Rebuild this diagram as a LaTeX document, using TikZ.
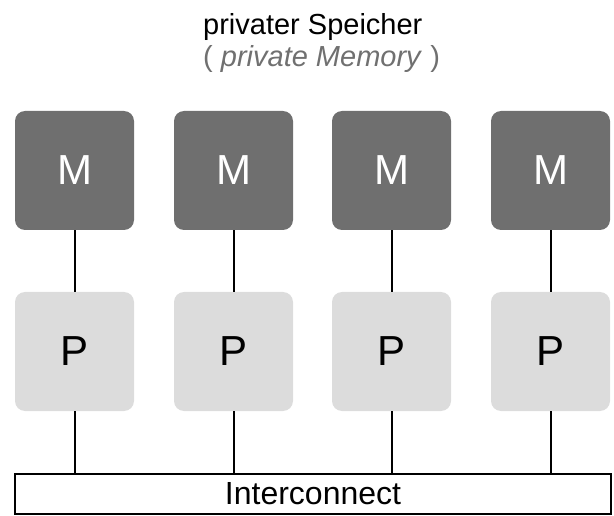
\documentclass[tikz,border=0pt]{standalone}
\usepackage{fontspec}
\setmainfont{Liberation Sans}
\definecolor{mgray}{HTML}{6F6F6F}
\definecolor{pgray}{HTML}{DCDCDC}
\definecolor{subgray}{HTML}{707070}
\begin{document}
\begin{tikzpicture}[x=1pt,y=-1pt,
  mbox/.style={fill=mgray,rounded corners=10pt,minimum width=119pt,minimum height=119pt,inner sep=0pt,text=white,font=\fontsize{42}{48}\selectfont},
  pbox/.style={fill=pgray,rounded corners=10pt,minimum width=119pt,minimum height=119pt,inner sep=0pt,text=black,font=\fontsize{42}{48}\selectfont},
  link/.style={line width=2pt,black}]
\useasboundingbox (0,0) rectangle (614,516);
\node[anchor=base west,inner sep=0pt,font=\fontsize{29}{34}\selectfont] (t1) at (203,35) {privater Speicher};
\node[anchor=base west,inner sep=0pt,text=subgray,font=\fontsize{29}{34}\selectfont] (t2) at (203,67) {( \textit{private Memory} )};
\foreach \i/\x in {1/74.5,2/233.5,3/391.5,4/550.5}{
  \node[mbox] (m\i) at (\x,170.5) {M};
  \node[pbox] (p\i) at (\x,351.5) {P};
}
\node[draw,line width=2pt,minimum width=596pt,minimum height=40pt,inner sep=0pt,font=\fontsize{32}{38}\selectfont] (ic) at (313,494) {Interconnect};
\foreach \i in {1,2,3,4}{
  \draw[link] (m\i.south) -- (p\i.north);
  \draw[link] (p\i.south) -- (p\i.south |- ic.north);
}
\end{tikzpicture}
\end{document}
